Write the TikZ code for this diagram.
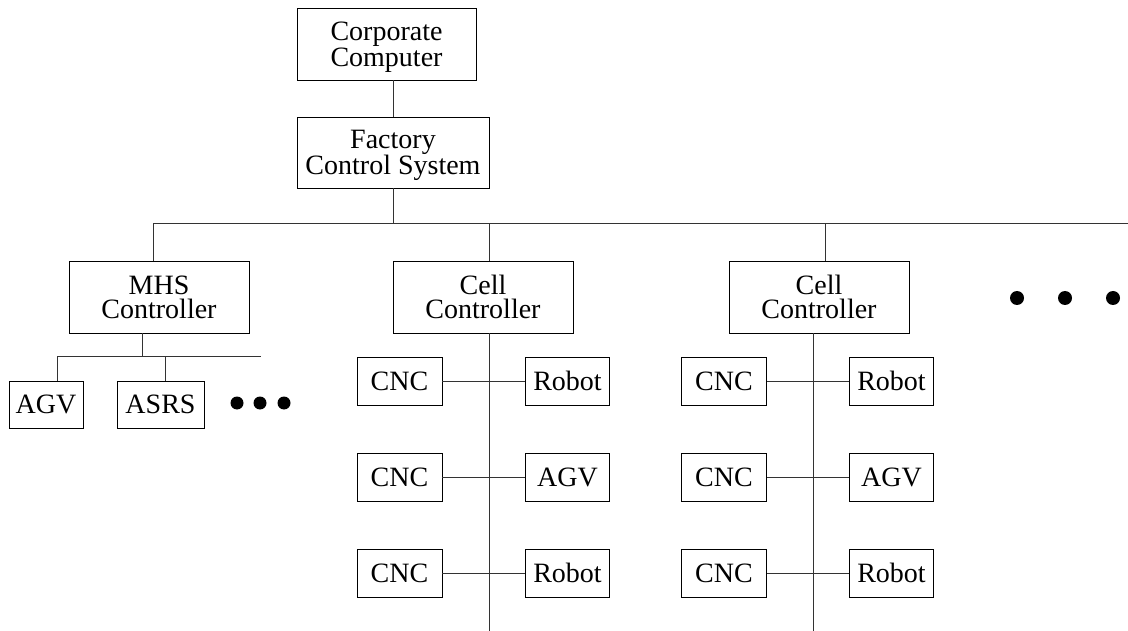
\documentclass[tikz,border=0pt]{standalone}
\usepackage{fontspec}
\setmainfont{Liberation Serif}
\begin{document}
\begin{tikzpicture}[x=1pt,y=-1pt,
  box/.style={draw=black, line width=0.9pt, inner sep=0pt, align=center,
    font=\fontsize{28}{24}\selectfont, text depth=0pt},
  link/.style={draw=black!80, line width=1pt},
  dot/.style={fill=black}]
\useasboundingbox (0,0) rectangle (1128,631);

% top of the hierarchy
\node[box, minimum width=179, minimum height=72] (corp) at (386.5,44) {Corporate\\Computer};
\node[box, minimum width=192, minimum height=71] (fcs) at (393,152.5) {Factory\\Control System};
\draw[link] (fcs.north) -- (fcs.north |- corp.south);

% factory bus
\coordinate (busL) at (153,224);
\coordinate (busR) at (1128,224);
\draw[link] (fcs.south) -- (fcs.south |- busL);
\draw[link] (busL) -- (busR);

% controllers
\node[box, minimum width=180, minimum height=72] (mhs) at (159,297) {MHS\\Controller};
\node[box, minimum width=180, minimum height=72] (cell1) at (483,297) {Cell\\Controller};
\node[box, minimum width=180, minimum height=72] (cell2) at (819,297) {Cell\\Controller};
\coordinate (drop1) at (153,224);
\coordinate (drop2) at (489,224);
\coordinate (drop3) at (825,224);
\draw[link] (drop1) -- (drop1 |- mhs.north);
\draw[link] (drop2) -- (drop2 |- cell1.north);
\draw[link] (drop3) -- (drop3 |- cell2.north);

% more controllers
\fill[dot] (1017,298) circle[radius=7pt];
\fill[dot] (1065,298) circle[radius=7pt];
\fill[dot] (1113,298) circle[radius=7pt];

% material handling branch
\coordinate (mhsdrop) at (142,356);
\coordinate (mhsbusL) at (57,356);
\coordinate (mhsbusR) at (261,356);
\coordinate (asrsdrop) at (165,356);
\draw[link] (mhsdrop |- mhs.south) -- (mhsdrop);
\draw[link] (mhsbusL) -- (mhsbusR);
\node[box, minimum width=74, minimum height=47] (agv0) at (46,404.5) {AGV};
\node[box, minimum width=87, minimum height=47] (asrs) at (160.5,404.5) {ASRS};
\draw[link] (mhsbusL) -- (mhsbusL |- agv0.north);
\draw[link] (asrsdrop) -- (asrsdrop |- asrs.north);
\fill[dot] (237,403) circle[radius=6.5pt];
\fill[dot] (260,403) circle[radius=6.5pt];
\fill[dot] (284,403) circle[radius=6.5pt];

% cell branches
\foreach \col/\cnc/\rob/\spine in {cell1/399.5/567.5/489, cell2/724/891.5/813} {
  \coordinate (\col-end) at (\spine,631);
  \draw[link] (\col-end |- \col.south) -- (\col-end);
  \foreach \row/\ry/\name in {1/381/Robot, 2/477/AGV, 3/573/Robot} {
    \node[box, minimum width=85, minimum height=48] (\col-cnc\row) at (\cnc,\ry) {CNC};
    \node[box, minimum width=84, minimum height=48] (\col-dev\row) at (\rob,\ry) {\name};
    \draw[link] (\col-cnc\row) -- (\col-dev\row);
  }
}
\end{tikzpicture}
\end{document}
